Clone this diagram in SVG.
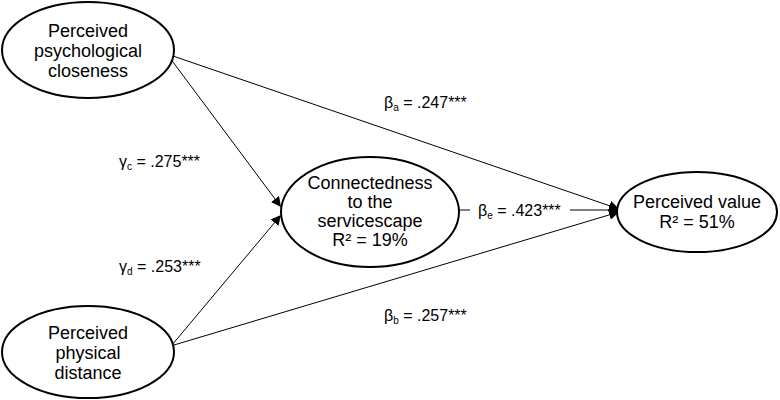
<svg xmlns="http://www.w3.org/2000/svg" width="780" height="400" viewBox="0 0 780 400">
<style>
ellipse{fill:#fff;stroke:#000;stroke-width:2}
text{font-family:"Liberation Sans",Arial,sans-serif;font-size:18px;fill:#000}
.c{text-anchor:middle}
.l{font-size:16px}
.s{font-size:10px}
line{stroke:#000;stroke-width:1}
</style>
<defs><marker id="a" viewBox="0 0 10 10" refX="10" refY="5" markerWidth="10" markerHeight="10" orient="auto" markerUnits="userSpaceOnUse"><path d="M0,0L10,5L0,10z"/></marker></defs>
<g id="connectors">
<line x1="170" y1="55" x2="619" y2="209" marker-end="url(#a)"/>
<line x1="170" y1="58" x2="281" y2="207" marker-end="url(#a)"/>
<line x1="172" y1="345" x2="281" y2="215" marker-end="url(#a)"/>
<line x1="174" y1="345" x2="619" y2="212" marker-end="url(#a)"/>
<line x1="459" y1="210" x2="470" y2="210"/>
<line x1="570" y1="210" x2="619" y2="210" marker-end="url(#a)"/>
</g>
<g id="n1"><ellipse cx="88" cy="50" rx="86" ry="48"/><text class="c" x="88" y="37">Perceived</text><text class="c" x="88" y="57">psychological</text><text class="c" x="88" y="77">closeness</text></g>
<g id="n2"><ellipse cx="88" cy="352" rx="86" ry="46"/><text class="c" x="88" y="339">Perceived</text><text class="c" x="88" y="359">physical</text><text class="c" x="88" y="379">distance</text></g>
<g id="n3"><ellipse cx="370" cy="212" rx="89" ry="55"/><text class="c" x="370" y="189">Connectedness</text><text class="c" x="370" y="208">to the</text><text class="c" x="370" y="227">servicescape</text><text class="c" x="370" y="246">R² = 19%</text></g>
<g id="n4"><ellipse cx="697" cy="212" rx="80" ry="40"/><text class="c" x="697" y="208">Perceived value</text><text class="c" x="697" y="228">R² = 51%</text></g>
<g id="labels" class="l">
<text class="l" x="384" y="108">β<tspan class="s" dy="3">a</tspan><tspan dy="-3"> = .247***</tspan></text>
<text class="l" x="119" y="167">γ<tspan class="s" dy="3">c</tspan><tspan dy="-3"> = .275***</tspan></text>
<text class="l" x="478" y="216">β<tspan class="s" dy="3">e</tspan><tspan dy="-3"> = .423***</tspan></text>
<text class="l" x="119" y="272">γ<tspan class="s" dy="3">d</tspan><tspan dy="-3"> = .253***</tspan></text>
<text class="l" x="384" y="321">β<tspan class="s" dy="3">b</tspan><tspan dy="-3"> = .257***</tspan></text>
</g>
</svg>
